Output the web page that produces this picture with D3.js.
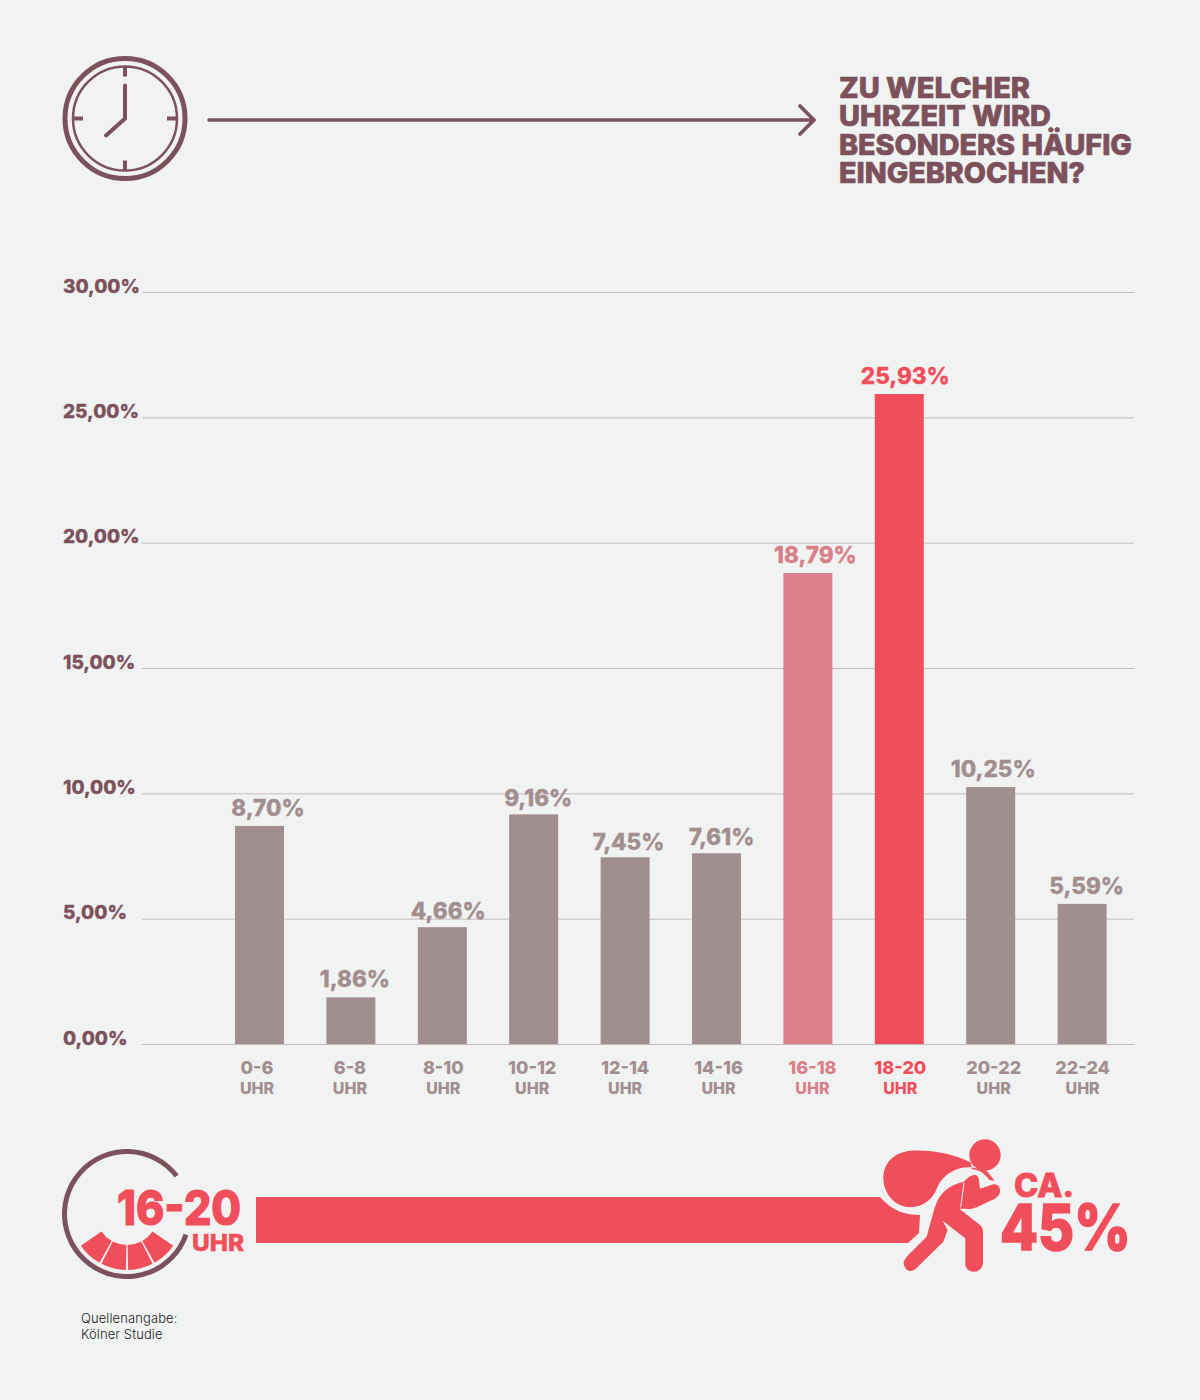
<!DOCTYPE html>
<html lang="de">
<head>
<meta charset="utf-8">
<title>Zu welcher Uhrzeit wird besonders häufig eingebrochen?</title>
<script src="https://cdn.jsdelivr.net/npm/d3@7"></script>
<style>
  html, body { margin: 0; padding: 0; background: #f1f3f3; }
  svg { display: block; }
  text { font-family: Inter, "Noto Sans", sans-serif; font-weight: 800; }
</style>
</head>
<body>
<svg id="chart" width="1200" height="1400" viewBox="0 0 1200 1400"></svg>
<script>
'use strict';

// Data
const categories = ['0-6', '6-8', '8-10', '10-12', '12-14', '14-16', '16-18', '18-20', '20-22', '22-24'];
const shares = [8.70, 1.86, 4.66, 9.16, 7.45, 7.61, 18.79, 25.93, 10.25, 5.59];
const yTicks = [0, 5, 10, 15, 20, 25, 30];
const titleLines = ['ZU WELCHER', 'UHRZEIT WIRD', 'BESONDERS HÄUFIG', 'EINGEBROCHEN?'];
const sourceLines = ['Quellenangabe:', 'Kölner Studie'];

// Labels in the original are hand placed, not centred on their bars
const valueLabelDx = [8.5, 4, 6, 4.5, 3.5, 5, 7.5, 6, 2.5, 4.5];
const valueLabelDy = [0, 0, 2, 2, 3, 2, 0, 0, 0, 0];
const catLabelDx = [-2.5, -1, 1, -1.5, 0, 2, 4.5, 1, 3, 0.5];
const titleWidths = [191, 212, 293, 246];

const BG = '#f1f3f3', PLUM = '#7c515c', GREY = '#a18e8f', PINK = '#d97f89', RED = '#f14e5c', GRID = '#c9b9be';

const pct = v => v.toFixed(2).replace('.', ',') + '%';
const barColor = c => c === '18-20' ? RED : c === '16-18' ? PINK : GREY;

const svg = d3.select('#chart');
svg.append('rect').attr('width', 1200).attr('height', 1400).attr('fill', BG);

const x = d3.scaleBand().domain(categories).range([213.8, 1127.8]).paddingInner(0.464).paddingOuter(0.232);
const y = d3.scaleLinear().domain([0, 30]).range([1044, 292]);

// Axis and grid
const axis = svg.append('g').attr('transform', 'translate(142,0)')
    .call(d3.axisLeft(y).tickValues(yTicks).tickSize(-992).tickFormat(pct));
axis.select('.domain').remove();
axis.selectAll('line').attr('stroke', GRID).attr('stroke-width', 1);
axis.selectAll('text')
    .attr('x', -79).attr('dy', 0).attr('text-anchor', 'start')
    .attr('font-family', 'Inter, sans-serif').attr('font-size', 19).attr('fill', PLUM)
    .attr('font-weight', 800).attr('stroke', PLUM).attr('stroke-width', 0.3);

// Bars
svg.append('g').selectAll('rect')
    .data(categories)
    .join('rect')
    .attr('x', d => x(d))
    .attr('width', x.bandwidth())
    .attr('y', (d, i) => y(shares[i]))
    .attr('height', (d, i) => y(0) - y(shares[i]))
    .attr('fill', barColor);

// Value labels
svg.append('g').selectAll('text')
    .data(categories)
    .join('text')
    .attr('x', (d, i) => x(d) + x.bandwidth() / 2 + valueLabelDx[i])
    .attr('y', (d, i) => y(shares[i]) - 10 + valueLabelDy[i])
    .attr('text-anchor', 'middle').attr('font-size', 22.5)
    .attr('fill', barColor).attr('stroke', barColor).attr('stroke-width', 0.3)
    .text((d, i) => pct(shares[i]));

// Category labels
const cats = svg.append('g').selectAll('g')
    .data(categories)
    .join('g')
    .attr('transform', (d, i) => `translate(${x(d) + x.bandwidth() / 2 + catLabelDx[i]},0)`)
    .attr('text-anchor', 'middle')
    .attr('fill', barColor);
cats.append('text').attr('y', 1074).attr('font-size', 18).text(d => d);
cats.append('text').attr('y', 1093.5).attr('font-size', 16).text('UHR');

// Header: clock, arrow, title
const clock = svg.append('g').attr('transform', 'translate(125,118.5)')
    .attr('fill', 'none').attr('stroke', PLUM);
clock.append('circle').attr('r', 60).attr('stroke-width', 5);
clock.append('circle').attr('r', 52).attr('stroke-width', 2.5);
[0, 90, 180, 270].forEach(a => {
    clock.append('line').attr('y1', -52).attr('y2', -42)
        .attr('stroke-width', 4).attr('transform', `rotate(${a})`);
});
clock.append('path').attr('d', 'M0,-33V0L-19,17')
    .attr('stroke-width', 4).attr('stroke-linecap', 'round');

svg.append('path').attr('d', 'M209,120H813M800,106L814,120L800,134')
    .attr('fill', 'none').attr('stroke', PLUM).attr('stroke-width', 3.6).attr('stroke-linecap', 'round');

svg.append('g').selectAll('text')
    .data(titleLines)
    .join('text')
    .attr('x', 839)
    .attr('y', (d, i) => 98 + i * 28.3)
    .attr('font-size', 29).attr('font-weight', 900).attr('fill', PLUM)
    .attr('stroke', PLUM).attr('stroke-width', 0.7)
    .attr('textLength', (d, i) => titleWidths[i]).attr('lengthAdjust', 'spacingAndGlyphs')
    .text(d => d);

// Footer band
svg.append('path')
    .attr('d', 'M256,1197H880C893,1212 907,1215 920,1215L919,1233L908,1243H256Z')
    .attr('fill', RED);

// Dial with the four hours 16-20
const dial = svg.append('g').attr('transform', 'translate(127,1214)');
const deg = a => a * Math.PI / 180;
dial.append('path')
    .attr('d', d3.arc().innerRadius(60).outerRadius(65).startAngle(deg(109.3)).endAngle(deg(412.6))())
    .attr('fill', PLUM);
dial.selectAll('.hour')
    .data(d3.range(4))
    .join('path')
    .attr('class', 'hour')
    .attr('d', i => d3.arc().innerRadius(31).outerRadius(56)
        .startAngle(deg(123.3 + i * 28.35) + 0.02).endAngle(deg(123.3 + (i + 1) * 28.35) - 0.02)())
    .attr('fill', RED);

svg.append('text').attr('x', 117).attr('y', 1225).attr('font-size', 48).attr('fill', RED)
    .attr('stroke', RED).attr('stroke-width', 1.2)
    .attr('textLength', 124).attr('lengthAdjust', 'spacingAndGlyphs').text('16-20');
svg.append('text').attr('x', 192).attr('y', 1251).attr('font-size', 23).attr('fill', RED)
    .attr('stroke', RED).attr('stroke-width', 0.5)
    .attr('textLength', 52).attr('lengthAdjust', 'spacingAndGlyphs').text('UHR');

// Burglar icon, traced in 3x units
const thief = svg.append('g').attr('transform', 'translate(830,1130) scale(0.3333)').attr('fill', RED);
thief.append('circle').attr('cx', 465).attr('cy', 75).attr('r', 47);
thief.append('path').attr('d', 'M422,97C370,70 300,58 240,62C190,68 160,100 160,145C160,190 195,232 240,232C285,230 310,205 322,172C340,130 385,108 425,112Z');
thief.append('path').attr('d', 'M425,112L470,122L494,152L478,150C462,128 445,118 425,118Z');
thief.append('path').attr('d', 'M402,155C425,128 447,130 447,152L450,176L490,163C508,160 514,180 508,192C503,202 495,207 488,209L440,232C425,238 415,238 405,236L388,236L450,285C458,292 459,298 459,307L459,400C456,427 432,425 432,425C410,425 406,410 406,400L406,325L338,272L353,300L340,335L262,412C248,428 230,425 225,412C216,398 224,388 232,378L290,320L312,240C325,190 355,165 402,155Z');
thief.append('path').attr('d', 'M402,158L392,232').attr('stroke', BG).attr('stroke-width', 3).attr('fill', 'none');

svg.append('text').attr('x', 1014).attr('y', 1197).attr('font-size', 32).attr('fill', RED)
    .attr('stroke', RED).attr('stroke-width', 0.8)
    .attr('textLength', 60).attr('lengthAdjust', 'spacingAndGlyphs').text('CA.');
svg.append('text').attr('x', 1000).attr('y', 1250).attr('font-size', 63).attr('font-weight', 900).attr('fill', RED)
    .attr('stroke', RED).attr('stroke-width', 1.6)
    .attr('textLength', 131).attr('lengthAdjust', 'spacingAndGlyphs').text('45%');

// Source note
svg.append('g').selectAll('text')
    .data(sourceLines)
    .join('text')
    .attr('x', 81)
    .attr('y', (d, i) => 1323 + i * 15.5)
    .attr('font-size', 13).style('font-weight', 300).attr('letter-spacing', 0.1).attr('fill', '#222')
    .text(d => d);
</script>
</body>
</html>
